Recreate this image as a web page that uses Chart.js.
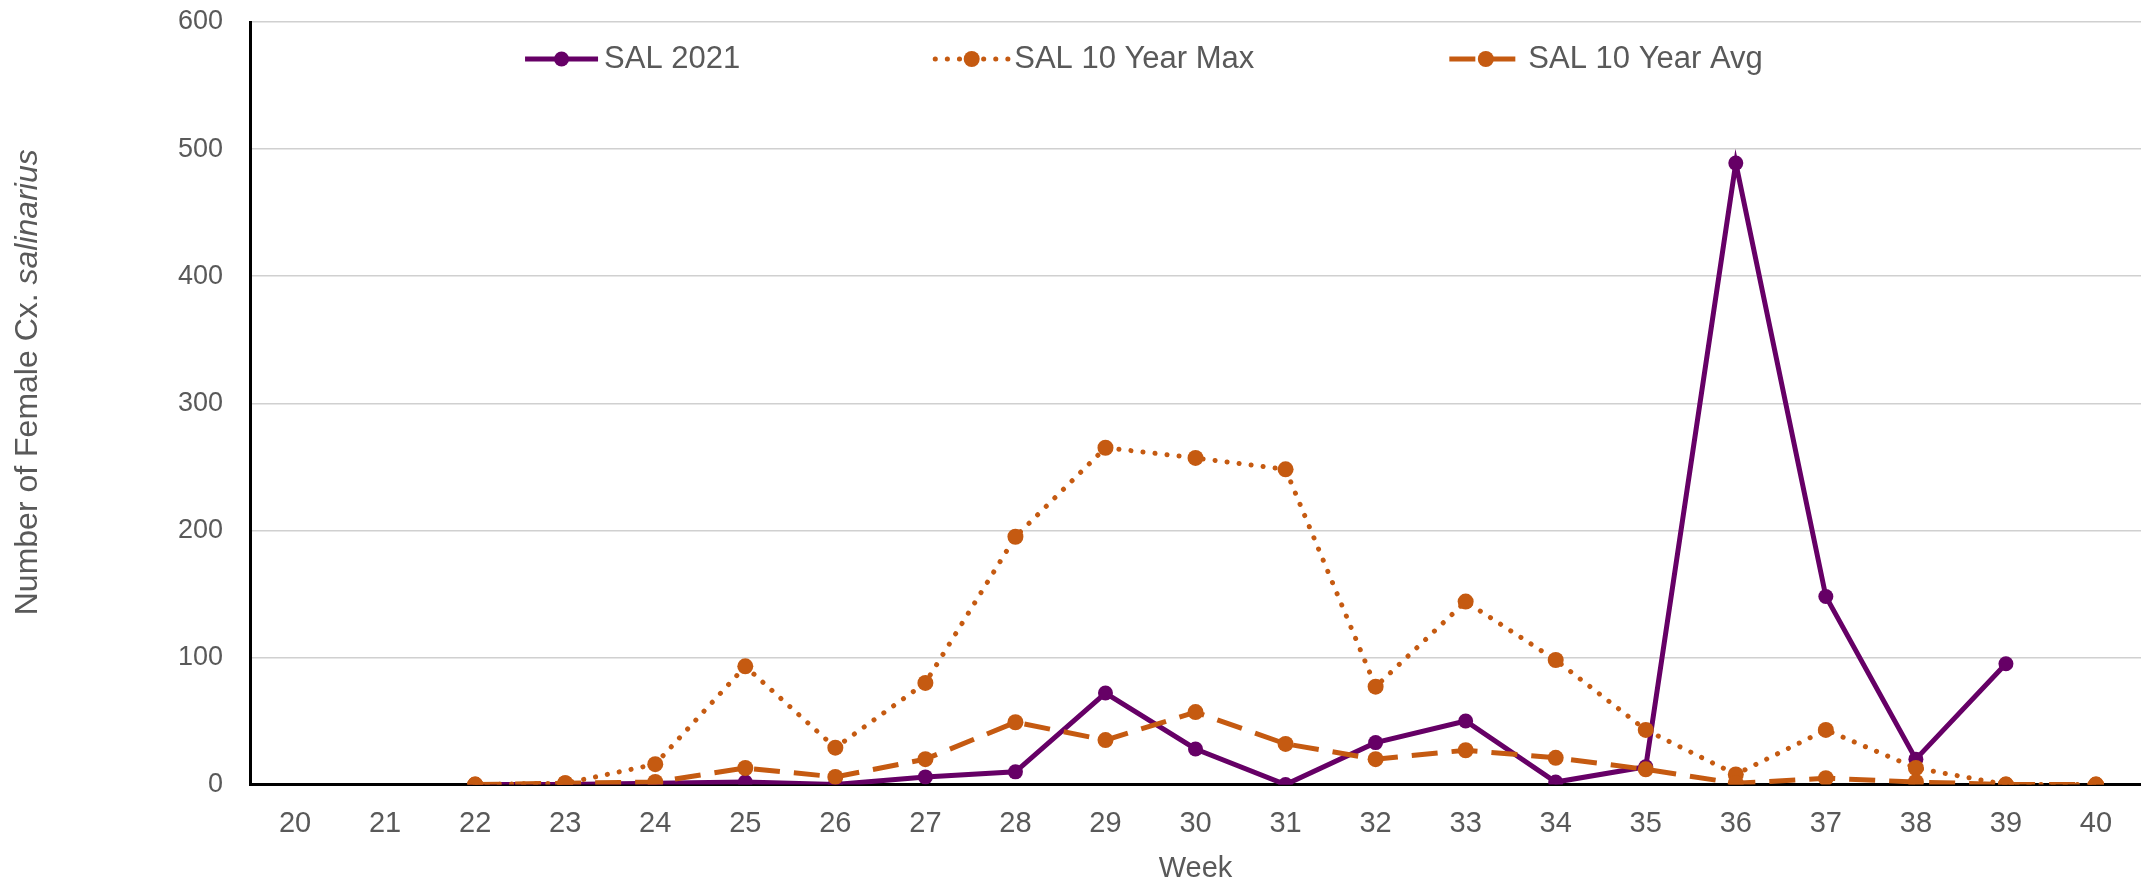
<!DOCTYPE html>
<html>
<head>
<meta charset="utf-8">
<script src="https://cdn.jsdelivr.net/npm/chart.js@4"></script>
<style>
  body { margin: 0; background: #fff; }
</style>
</head>
<body>
<canvas id="chart" width="2141" height="881"></canvas>
<script>
const weeks = ['20', '21', '22', '23', '24', '25', '26', '27', '28', '29', '30',
               '31', '32', '33', '34', '35', '36', '37', '38', '39', '40'];
const sal2021 = [null, null, 0, 0, 1, 2, 0, 6, 10, 72, 28, 0, 33, 50, 2, 14, 489, 148, 20, 95, null];
const salMax = [null, null, 0, 1, 16, 93, 29, 80, 195, 265, 257, 248, 77, 144, 98, 43, 8, 43, 13, 0, 0];
const salAvg = [null, null, 0, 1, 2, 13, 6, 20, 49, 35, 57, 32, 20, 27, 21, 12, 1, 5, 2, 0, 0];
const yTicks = [0, 100, 200, 300, 400, 500, 600];

const textColor = '#595959';
const purple = '#660066';
const orange = '#c55a11';
const fontFamily = '"Liberation Sans", Arial, sans-serif';

// legend drawn by hand so the symbols look like line + marker
const lineLegend = {
  id: 'lineLegend',
  afterDraw(chart) {
    const ctx = chart.ctx;
    const y = 59;
    let x = chart.chartArea.left + 275;
    ctx.save();
    ctx.font = '31px ' + fontFamily;
    ctx.textBaseline = 'middle';
    chart.data.datasets.forEach(ds => {
      ctx.strokeStyle = ds.borderColor;
      ctx.lineWidth = ds.borderWidth;
      ctx.lineCap = ds.borderCapStyle || 'butt';
      ctx.setLineDash(ds.borderDash || []);
      ctx.beginPath();
      ctx.moveTo(x, y);
      ctx.lineTo(x + 73, y);
      ctx.stroke();
      ctx.setLineDash([]);
      ctx.fillStyle = ds.pointBackgroundColor;
      ctx.beginPath();
      ctx.arc(x + 36.5, y, ds.pointRadius, 0, Math.PI * 2);
      ctx.fill();
      ctx.fillStyle = textColor;
      ctx.fillText(ds.label, x + 79, y);
      x += 79 + ctx.measureText(ds.label).width + 195;
    });
    ctx.restore();
  }
};

// y title with the species name in italics
const yTitle = {
  id: 'yTitle',
  afterDraw(chart) {
    const ctx = chart.ctx;
    const a = chart.chartArea;
    const part1 = 'Number of Female Cx. ';
    const part2 = 'salinarius';
    const f1 = '32px ' + fontFamily;
    const f2 = 'italic 32px ' + fontFamily;
    ctx.save();
    ctx.translate(28, (a.top + a.bottom) / 2 - 21);
    ctx.rotate(-Math.PI / 2);
    ctx.textBaseline = 'middle';
    ctx.fillStyle = textColor;
    ctx.font = f1;
    const w1 = ctx.measureText(part1).width;
    ctx.font = f2;
    const w2 = ctx.measureText(part2).width;
    const x0 = -(w1 + w2) / 2;
    ctx.font = f1;
    ctx.fillText(part1, x0, 0);
    ctx.font = f2;
    ctx.fillText(part2, x0 + w1, 0);
    ctx.restore();
  }
};

new Chart(document.getElementById('chart'), {
  type: 'line',
  data: {
    labels: weeks,
    datasets: [
      {
        label: 'SAL 2021',
        data: sal2021,
        borderColor: purple,
        backgroundColor: purple,
        pointBackgroundColor: purple,
        pointBorderWidth: 0,
        borderWidth: 5,
        pointRadius: 7.5,
        order: 3
      },
      {
        label: 'SAL 10 Year Max',
        data: salMax,
        borderColor: orange,
        backgroundColor: orange,
        pointBackgroundColor: orange,
        pointBorderWidth: 0,
        borderWidth: 5,
        borderDash: [0.1, 12],
        borderCapStyle: 'round',
        pointRadius: 8,
        order: 2
      },
      {
        label: 'SAL 10 Year Avg',
        data: salAvg,
        borderColor: orange,
        backgroundColor: orange,
        pointBackgroundColor: orange,
        pointBorderWidth: 0,
        borderWidth: 5,
        borderDash: [26, 14],
        pointRadius: 8,
        order: 1
      }
    ]
  },
  options: {
    responsive: false,
    animation: false,
    layout: { autoPadding: false, padding: { left: 151, top: 22, right: 0, bottom: 0 } },
    plugins: {
      legend: { display: false },
      tooltip: { enabled: false }
    },
    scales: {
      x: {
        offset: true,
        afterFit: scale => { scale.paddingLeft = 0; scale.paddingRight = 0; },
        grid: { display: false, drawTicks: false },
        border: { color: '#000', width: 3 },
        ticks: { color: textColor, font: { size: 29, family: fontFamily }, padding: 22, maxRotation: 0, autoSkip: false },
        title: { display: true, text: 'Week', color: textColor, font: { size: 29, family: fontFamily, lineHeight: 0.85 }, padding: { top: -7, bottom: 0 } }
      },
      y: {
        min: 0,
        max: 600,
        afterBuildTicks: scale => { scale.ticks = yTicks.map(v => ({ value: v })); },
        afterFit: scale => { scale.paddingTop = 0; scale.paddingBottom = 0; },
        grid: { color: '#d0d0d0', lineWidth: 1.5, drawTicks: false },
        border: { color: '#000', width: 3 },
        ticks: { color: textColor, font: { size: 27, family: fontFamily }, padding: 27 }
      }
    }
  },
  plugins: [lineLegend, yTitle]
});
</script>
</body>
</html>
